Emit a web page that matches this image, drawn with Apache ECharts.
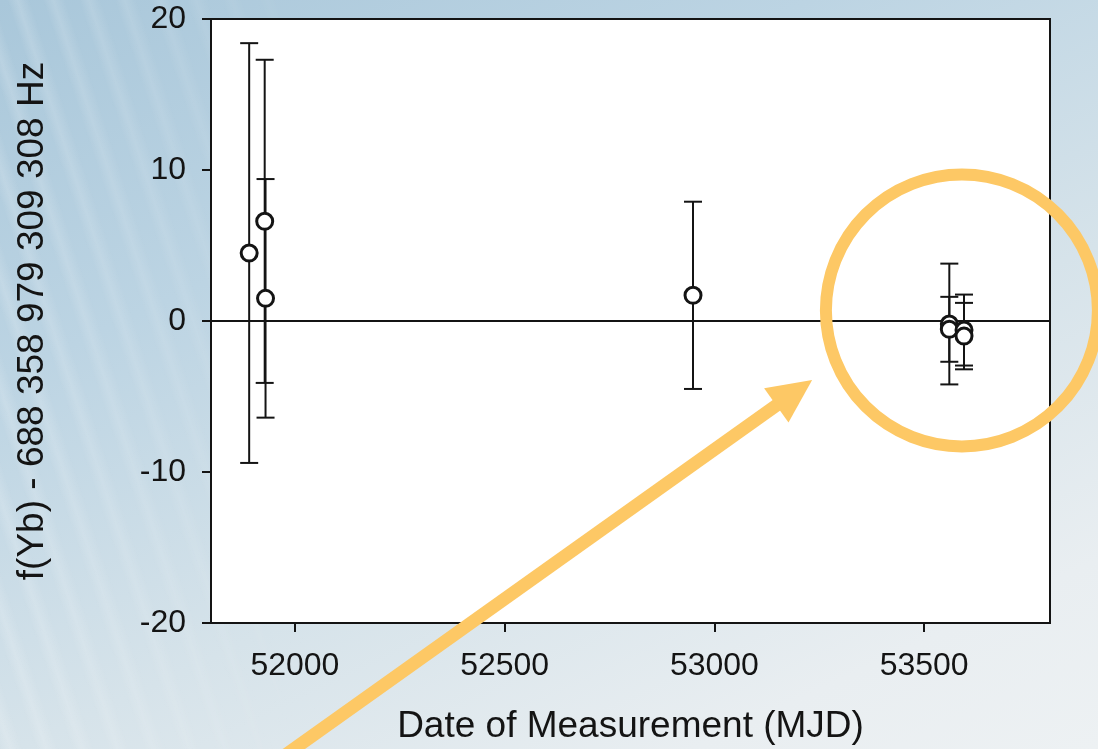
<!DOCTYPE html>
<html>
<head>
<meta charset="utf-8">
<script src="https://cdn.jsdelivr.net/npm/echarts@6/dist/echarts.min.js"></script>
<style>
  html, body { margin: 0; padding: 0; width: 1098px; height: 749px; overflow: hidden; }
  body {
    background: linear-gradient(155deg, #a9c7da 0%, #bcd4e3 30%, #d6e3ea 60%, #e9eef1 85%, #edf1f3 100%);
    position: relative;
  }
  #tex {
    position: absolute; left: 0; top: 0; width: 1098px; height: 749px;
    background: repeating-linear-gradient(72deg, rgba(255,255,255,0) 0px, rgba(255,255,255,0.18) 10px, rgba(255,255,255,0) 22px, rgba(255,255,255,0) 34px);
    -webkit-mask-image: linear-gradient(to right, rgba(0,0,0,1) 0px, rgba(0,0,0,0.5) 180px, rgba(0,0,0,0) 320px);
    mask-image: linear-gradient(to right, rgba(0,0,0,1) 0px, rgba(0,0,0,0.5) 180px, rgba(0,0,0,0) 320px);
  }
  #chart { position: absolute; left: 0; top: 0; width: 1098px; height: 749px; }
</style>
</head>
<body>
<div id="tex"></div>
<div id="chart"></div>
<script>
// ---- data ----
const mjd  = [51891, 51928, 51930, 52949, 53560, 53560, 53595, 53595];
const freq = [4.5, 6.6, 1.5, 1.7, -0.2, -0.55, -0.6, -1.0];
const err  = [13.9, 10.7, 7.9, 6.2, 4.0, 2.15, 2.35, 2.2];
const xTickValues = [52000, 52500, 53000, 53500];
const xTitle = 'Date of Measurement (MJD)';
const yTitle = 'f(Yb) - 688 358 979 309 308 Hz';

// annotation anchors in data space
const ringCenter = [53590, 0.7];
const arrowTip = [53233, -3.9];
const arrowTail = [51934, -29.6];

const FONT = "'Liberation Sans', Arial, Helvetica, sans-serif";
const INK = '#141414';
const ORANGE = '#fdc865';

const points = mjd.map((x, i) => [x, freq[i]]);
const bars = mjd.map((x, i) => [x, freq[i] - err[i], freq[i] + err[i]]);

const chart = echarts.init(document.getElementById('chart'), null, { renderer: 'canvas' });

chart.setOption({
  backgroundColor: 'transparent',
  animation: false,
  grid: {
    left: 211, top: 19, right: 48, bottom: 126,
    show: true, backgroundColor: '#ffffff', borderColor: INK, borderWidth: 2,
    containLabel: false, outerBoundsMode: 'none'
  },
  xAxis: {
    type: 'value', min: 51800, max: 53800,
    splitLine: { show: false },
    axisLine: { show: true, onZero: false, lineStyle: { color: INK, width: 2 } },
    axisTick: { show: true, inside: false, length: 9, customValues: xTickValues, lineStyle: { color: INK, width: 2 } },
    axisLabel: {
      show: true, customValues: xTickValues, margin: 27, color: INK, fontSize: 32, fontFamily: FONT,
      formatter: function (v) { return String(v); }
    },
    name: xTitle, nameLocation: 'middle', nameGap: 85,
    nameTextStyle: { color: INK, fontSize: 37, fontFamily: FONT }
  },
  yAxis: {
    type: 'value', min: -20, max: 20, interval: 10,
    splitLine: { show: false },
    axisLine: { show: true, onZero: false, lineStyle: { color: INK, width: 2 } },
    axisTick: { show: true, inside: false, length: 9, lineStyle: { color: INK, width: 2 } },
    axisLabel: { show: true, margin: 25, color: INK, fontSize: 32, fontFamily: FONT },
    name: yTitle, nameLocation: 'middle', nameGap: 160,
    nameTextStyle: { color: INK, fontSize: 37, fontFamily: FONT }
  },
  series: [
    {
      type: 'custom',
      data: bars,
      encode: { x: 0, y: [1, 2] },
      z: 2,
      silent: true,
      renderItem: function (params, api) {
        const x = api.value(0);
        const top = api.coord([x, api.value(2)]);
        const bot = api.coord([x, api.value(1)]);
        const hw = 9;
        const st = { stroke: INK, lineWidth: 2 };
        return {
          type: 'group',
          children: [
            { type: 'line', shape: { x1: top[0], y1: top[1], x2: bot[0], y2: bot[1] }, style: st },
            { type: 'line', shape: { x1: top[0] - hw, y1: top[1], x2: top[0] + hw, y2: top[1] }, style: st },
            { type: 'line', shape: { x1: bot[0] - hw, y1: bot[1], x2: bot[0] + hw, y2: bot[1] }, style: st }
          ]
        };
      },
      markLine: {
        silent: true, symbol: ['none', 'none'],
        label: { show: false },
        lineStyle: { color: INK, width: 2, type: 'solid' },
        data: [{ yAxis: 0 }]
      }
    },
    {
      type: 'scatter',
      data: points,
      z: 5,
      symbol: 'circle',
      symbolSize: 16,
      itemStyle: { color: '#ffffff', borderColor: INK, borderWidth: 3, opacity: 1 }
    }
  ]
});

// orange annotation (ring + arrow), anchored in data space
const c = chart.convertToPixel({ gridIndex: 0 }, ringCenter);
const tip = chart.convertToPixel({ gridIndex: 0 }, arrowTip);
const tail = chart.convertToPixel({ gridIndex: 0 }, arrowTail);
const dx = tip[0] - tail[0], dy = tip[1] - tail[1];
const len = Math.sqrt(dx * dx + dy * dy);
const ux = dx / len, uy = dy / len;
const headLen = 44, headHalf = 21;
const bx = tip[0] - ux * headLen, by = tip[1] - uy * headLen;
const nx = -uy, ny = ux;

chart.setOption({
  graphic: [
    {
      type: 'circle', z: 100,
      shape: { cx: c[0], cy: c[1], r: 136 },
      style: { fill: 'none', stroke: ORANGE, lineWidth: 12 }
    },
    {
      type: 'line', z: 100,
      shape: { x1: tail[0], y1: tail[1], x2: bx + ux * 2, y2: by + uy * 2 },
      style: { stroke: ORANGE, lineWidth: 13 }
    },
    {
      type: 'polygon', z: 100,
      shape: { points: [[tip[0], tip[1]], [bx + nx * headHalf, by + ny * headHalf], [bx - nx * headHalf, by - ny * headHalf]] },
      style: { fill: ORANGE }
    }
  ]
});
</script>
</body>
</html>
